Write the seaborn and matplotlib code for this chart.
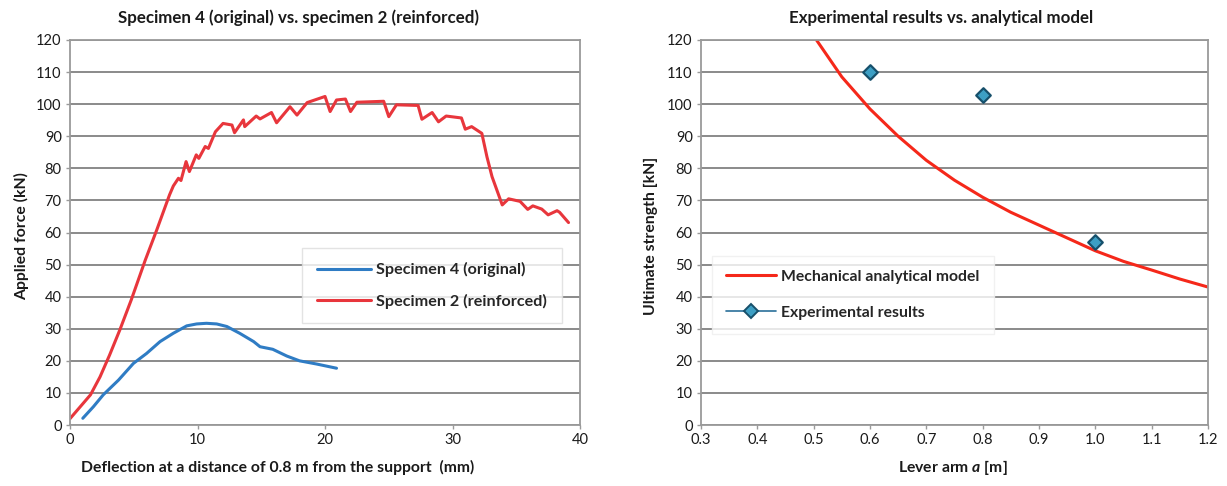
import numpy as np
import pandas as pd
import matplotlib
matplotlib.use("Agg")
import matplotlib.pyplot as plt
from matplotlib.lines import Line2D
import seaborn as sns

# ---- Specimen 2 (reinforced): deflection [mm] vs applied force [kN]
spec2_defl = [0.0, 0.8, 1.6, 2.35, 3.1, 3.9, 4.8, 5.9, 6.8, 7.8, 8.1, 8.5, 8.7, 9.1, 9.36, 9.9, 10.1,
              10.6, 10.85, 11.4, 12.0, 12.7, 12.9, 13.6, 13.7, 14.6, 14.9, 15.8, 16.2, 17.25,
              17.8, 18.6, 20.0, 20.4, 20.9, 21.6, 22.0, 22.5, 24.6, 25.0, 25.6, 27.3, 27.6,
              28.4, 28.9, 29.5, 30.7, 31.0, 31.5, 32.3, 32.7, 33.1, 33.9, 34.4, 35.3, 35.9,
              36.3, 37.0, 37.5, 38.2, 38.4, 39.1]
spec2_force = [2.0, 5.7, 9.4, 15.0, 21.8, 29.6, 39.0, 51.4, 60.8, 71.7, 74.5, 76.9, 76.2, 82.1, 79.0,
               84.2, 83.1, 86.8, 86.2, 91.4, 94.0, 93.5, 91.1, 95.1, 93.0, 96.3, 95.4, 97.4, 94.2,
               99.2, 96.6, 100.5, 102.4, 97.7, 101.3, 101.6, 97.7, 100.6, 100.9, 96.1, 99.8, 99.6,
               95.3, 97.4, 94.5, 96.3, 95.7, 92.2, 93.0, 90.9, 83.6, 77.4, 68.6, 70.5, 69.7, 67.2,
               68.3, 67.3, 65.5, 66.8, 66.3, 63.1]

# ---- Specimen 4 (original)
spec4_defl = [1.0, 1.83, 2.6, 3.8, 4.97, 6.0, 7.06, 8.1, 9.15, 9.93, 10.7, 11.5, 12.3, 13.3,
              14.4, 14.9, 15.9, 17.0, 18.0, 19.35, 20.9]
spec4_force = [2.1, 5.7, 9.4, 14.0, 19.2, 22.3, 26.0, 28.6, 30.9, 31.5, 31.7, 31.5, 30.7, 28.6,
               26.0, 24.4, 23.6, 21.5, 20.0, 19.0, 17.7]

# ---- Mechanical analytical model: lever arm [m] vs ultimate strength [kN]
model_arm = [0.505, 0.55, 0.60, 0.65, 0.70, 0.75, 0.80, 0.85, 0.90, 0.95, 1.00, 1.05, 1.10, 1.15, 1.20]
model_strength = [120.0, 108.5, 98.5, 90.0, 82.5, 76.3, 71.0, 66.3, 62.3, 58.3, 54.3, 51.0, 48.3, 45.5, 43.0]

# ---- Experimental results
exp_arm = [0.6, 0.8, 1.0]
exp_strength = [110.0, 103.0, 57.0]

y_ticks = list(range(0, 121, 10))
x_ticks_left = [0, 10, 20, 30, 40]
x_ticks_right = [0.3, 0.4, 0.5, 0.6, 0.7, 0.8, 0.9, 1.0, 1.1, 1.2]

RED_TEST = "#e8363c"
BLUE_TEST = "#2f7cc4"
RED_MODEL = "#f5281a"
DIAMOND_FACE = "#3d9fc4"
DIAMOND_EDGE = "#17506b"
GRID = "#8a8a8a"
TXT = "#1a1a1a"

sns.set_theme(style="white")
plt.rcParams["font.family"] = ["Lato", "DejaVu Sans"]
plt.rcParams["mathtext.fontset"] = "custom"
plt.rcParams["mathtext.it"] = "Lato:italic:bold"
plt.rcParams["mathtext.rm"] = "Lato:bold"

fig = plt.figure(figsize=(12.27, 4.86), dpi=100)
ax1 = fig.add_axes([0.0571, 0.1255, 0.4156, 0.7922])
ax2 = fig.add_axes([0.5713, 0.1255, 0.4132, 0.7922])

df2 = pd.DataFrame({"x": spec2_defl, "y": spec2_force})
df4 = pd.DataFrame({"x": spec4_defl, "y": spec4_force})
sns.lineplot(data=df4, x="x", y="y", sort=False, ax=ax1, color=BLUE_TEST, lw=2.2,
             label="Specimen 4 (original)")
sns.lineplot(data=df2, x="x", y="y", sort=False, ax=ax1, color=RED_TEST, lw=2.2,
             label="Specimen 2 (reinforced)")

dfm = pd.DataFrame({"x": model_arm, "y": model_strength})
dfe = pd.DataFrame({"x": exp_arm, "y": exp_strength})
sns.lineplot(data=dfm, x="x", y="y", sort=False, ax=ax2, color=RED_MODEL, lw=2.2)
sns.scatterplot(data=dfe, x="x", y="y", ax=ax2, marker="D", s=55,
                color=DIAMOND_FACE, edgecolor=DIAMOND_EDGE, linewidth=1.6, zorder=5)

for ax, xt, xlim in ((ax1, x_ticks_left, (0, 40)), (ax2, x_ticks_right, (0.3, 1.2))):
    ax.set_xlim(*xlim)
    ax.set_ylim(0, 120)
    ax.set_xticks(xt)
    ax.set_yticks(y_ticks)
    ax.yaxis.grid(True, color=GRID, lw=1.4)
    ax.xaxis.grid(False)
    ax.set_axisbelow(True)
    for sp in ax.spines.values():
        sp.set_visible(True)
        sp.set_color("#9a9a9a")
        sp.set_linewidth(1.3)
    ax.tick_params(axis="both", labelsize=10.5, colors=TXT, length=3, width=1,
                   color="#9a9a9a", direction="out", pad=3, left=True, bottom=True)
    ax.set_xlabel("")
    ax.set_ylabel("")

ax2.set_xticklabels([f"{v:.1f}" for v in x_ticks_right])

# Titles and axis labels
fig.text(298 / 1227, 1 - 18 / 486, "Specimen 4 (original) vs. specimen 2 (reinforced)",
         ha="center", va="center", fontsize=12.2, fontweight="bold", color=TXT)
fig.text(941 / 1227, 1 - 18 / 486, "Experimental results vs. analytical model",
         ha="center", va="center", fontsize=12.2, fontweight="bold", color=TXT)
fig.text(278 / 1227, 1 - 467 / 486, "Deflection at a distance of 0.8 m from the support  (mm)",
         ha="center", va="center", fontsize=11.3, fontweight="bold", color=TXT)
fig.text(953 / 1227, 1 - 467 / 486, r"Lever arm $a$ [m]",
         ha="center", va="center", fontsize=11.3, fontweight="bold", color=TXT)
fig.text(22 / 1227, 1 - 236 / 486, "Applied force (kN)", rotation=90,
         ha="center", va="center", fontsize=11.3, fontweight="bold", color=TXT)
fig.text(651 / 1227, 1 - 236 / 486, "Ultimate strength [kN]", rotation=90,
         ha="center", va="center", fontsize=11.3, fontweight="bold", color=TXT)

# Legends
leg1 = ax1.legend(loc="upper left", bbox_to_anchor=(0.455, 0.46), borderaxespad=0,
                  frameon=True, handlelength=3.4, handletextpad=0.3, labelspacing=1.0,
                  borderpad=0.9, fancybox=False, prop={"weight": "bold", "size": 11.6})
leg1.get_frame().set_edgecolor("#dddddd")
leg1.get_frame().set_linewidth(1.0)

handles = [Line2D([], [], color=RED_MODEL, lw=2.2),
           Line2D([], [], color="#2a6f9a", lw=1.2, marker="D", markersize=7,
                  markerfacecolor=DIAMOND_FACE, markeredgecolor=DIAMOND_EDGE, markeredgewidth=1.4)]
leg2 = ax2.legend(handles, ["Mechanical analytical model", "Experimental results"],
                  loc="upper left", bbox_to_anchor=(0.022, 0.44), borderaxespad=0,
                  frameon=True, handlelength=3.2, handletextpad=0.3, labelspacing=1.4,
                  borderpad=0.9, fancybox=False, prop={"weight": "bold", "size": 11.3})
leg2.get_frame().set_edgecolor("#eeeeee")
leg2.get_frame().set_linewidth(1.0)

fig.savefig("out.png", dpi=100, facecolor="white")
